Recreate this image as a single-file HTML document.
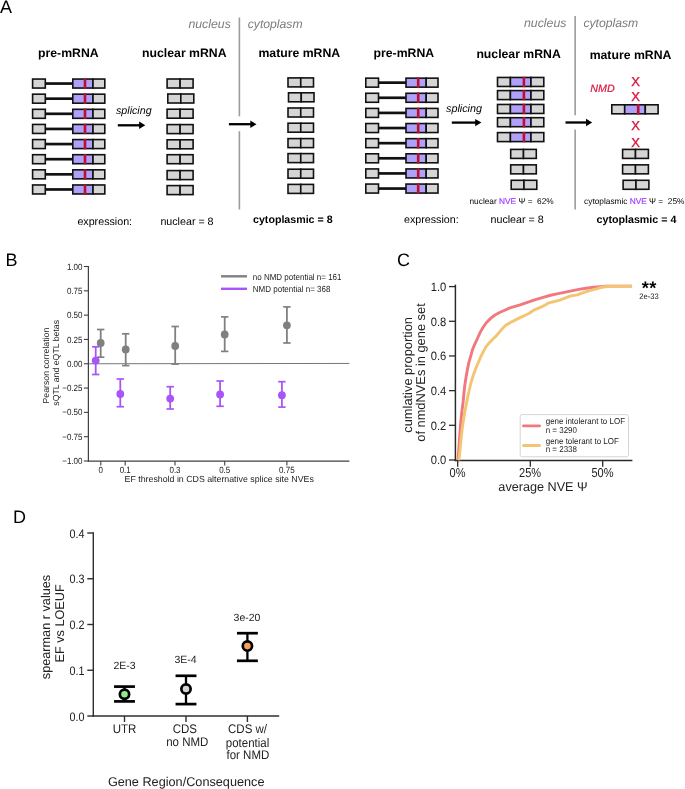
<!DOCTYPE html>
<html><head><meta charset="utf-8"><title>Figure</title>
<style>
html,body{margin:0;padding:0;background:#fff;}
body{width:685px;height:789px;overflow:hidden;font-family:"Liberation Sans", sans-serif;}
svg{display:block;font-family:"Liberation Sans", sans-serif;text-rendering:geometricPrecision;will-change:transform;}
</style></head><body>
<svg width="685" height="789" viewBox="0 0 685 789">
<rect width="685" height="789" fill="#fff"/>
<text x="-0.1" y="13.1" font-size="18" text-anchor="start" font-weight="normal" font-style="normal" fill="#000" >A</text>
<text x="68.3" y="57.3" font-size="12.25" text-anchor="middle" font-weight="bold" font-style="normal" fill="#000" >pre-mRNA</text>
<text x="184.3" y="57.3" font-size="12.25" text-anchor="middle" font-weight="bold" font-style="normal" fill="#000" >nuclear mRNA</text>
<text x="299.3" y="57.3" font-size="12.25" text-anchor="middle" font-weight="bold" font-style="normal" fill="#000" >mature mRNA</text>
<text x="230.8" y="27.5" font-size="12.3" text-anchor="end" font-weight="normal" font-style="italic" fill="#7c7c7c" >nucleus</text>
<text x="247.7" y="27.5" font-size="12.2" text-anchor="start" font-weight="normal" font-style="italic" fill="#7c7c7c" >cytoplasm</text>
<line x1="239.4" y1="17.5" x2="239.4" y2="116.3" stroke="#9c9c9c" stroke-width="1.6"/>
<line x1="239.4" y1="131.2" x2="239.4" y2="209.5" stroke="#9c9c9c" stroke-width="1.6"/>
<line x1="45.3" y1="83.55" x2="72.80000000000001" y2="83.55" stroke="#111" stroke-width="2.7"/>
<rect x="32.6" y="79.05" w="" width="12.7" height="9.0" fill="#d5d5d5" stroke="#111" stroke-width="1.6"/>
<rect x="72.80000000000001" y="79.05" w="" width="20.2" height="9.0" fill="#b0a0fa" stroke="#111" stroke-width="1.6"/>
<rect x="93.0" y="79.05" w="" width="11.8" height="9.0" fill="#d5d5d5" stroke="#111" stroke-width="1.6"/>
<line x1="85.0" y1="78.35" x2="85.0" y2="88.75" stroke="#ba0f2e" stroke-width="2.6"/>
<line x1="45.3" y1="98.67999999999999" x2="72.80000000000001" y2="98.67999999999999" stroke="#111" stroke-width="2.7"/>
<rect x="32.6" y="94.17999999999999" w="" width="12.7" height="9.0" fill="#d5d5d5" stroke="#111" stroke-width="1.6"/>
<rect x="72.80000000000001" y="94.17999999999999" w="" width="20.2" height="9.0" fill="#b0a0fa" stroke="#111" stroke-width="1.6"/>
<rect x="93.0" y="94.17999999999999" w="" width="11.8" height="9.0" fill="#d5d5d5" stroke="#111" stroke-width="1.6"/>
<line x1="85.0" y1="93.47999999999999" x2="85.0" y2="103.88" stroke="#ba0f2e" stroke-width="2.6"/>
<line x1="45.3" y1="113.81" x2="72.80000000000001" y2="113.81" stroke="#111" stroke-width="2.7"/>
<rect x="32.6" y="109.31" w="" width="12.7" height="9.0" fill="#d5d5d5" stroke="#111" stroke-width="1.6"/>
<rect x="72.80000000000001" y="109.31" w="" width="20.2" height="9.0" fill="#b0a0fa" stroke="#111" stroke-width="1.6"/>
<rect x="93.0" y="109.31" w="" width="11.8" height="9.0" fill="#d5d5d5" stroke="#111" stroke-width="1.6"/>
<line x1="85.0" y1="108.61" x2="85.0" y2="119.01" stroke="#ba0f2e" stroke-width="2.6"/>
<line x1="45.3" y1="128.94" x2="72.80000000000001" y2="128.94" stroke="#111" stroke-width="2.7"/>
<rect x="32.6" y="124.44" w="" width="12.7" height="9.0" fill="#d5d5d5" stroke="#111" stroke-width="1.6"/>
<rect x="72.80000000000001" y="124.44" w="" width="20.2" height="9.0" fill="#b0a0fa" stroke="#111" stroke-width="1.6"/>
<rect x="93.0" y="124.44" w="" width="11.8" height="9.0" fill="#d5d5d5" stroke="#111" stroke-width="1.6"/>
<line x1="85.0" y1="123.74" x2="85.0" y2="134.14" stroke="#ba0f2e" stroke-width="2.6"/>
<line x1="45.3" y1="144.07" x2="72.80000000000001" y2="144.07" stroke="#111" stroke-width="2.7"/>
<rect x="32.6" y="139.57" w="" width="12.7" height="9.0" fill="#d5d5d5" stroke="#111" stroke-width="1.6"/>
<rect x="72.80000000000001" y="139.57" w="" width="20.2" height="9.0" fill="#b0a0fa" stroke="#111" stroke-width="1.6"/>
<rect x="93.0" y="139.57" w="" width="11.8" height="9.0" fill="#d5d5d5" stroke="#111" stroke-width="1.6"/>
<line x1="85.0" y1="138.87" x2="85.0" y2="149.26999999999998" stroke="#ba0f2e" stroke-width="2.6"/>
<line x1="45.3" y1="159.2" x2="72.80000000000001" y2="159.2" stroke="#111" stroke-width="2.7"/>
<rect x="32.6" y="154.7" w="" width="12.7" height="9.0" fill="#d5d5d5" stroke="#111" stroke-width="1.6"/>
<rect x="72.80000000000001" y="154.7" w="" width="20.2" height="9.0" fill="#b0a0fa" stroke="#111" stroke-width="1.6"/>
<rect x="93.0" y="154.7" w="" width="11.8" height="9.0" fill="#d5d5d5" stroke="#111" stroke-width="1.6"/>
<line x1="85.0" y1="154.0" x2="85.0" y2="164.39999999999998" stroke="#ba0f2e" stroke-width="2.6"/>
<line x1="45.3" y1="174.32999999999998" x2="72.80000000000001" y2="174.32999999999998" stroke="#111" stroke-width="2.7"/>
<rect x="32.6" y="169.82999999999998" w="" width="12.7" height="9.0" fill="#d5d5d5" stroke="#111" stroke-width="1.6"/>
<rect x="72.80000000000001" y="169.82999999999998" w="" width="20.2" height="9.0" fill="#b0a0fa" stroke="#111" stroke-width="1.6"/>
<rect x="93.0" y="169.82999999999998" w="" width="11.8" height="9.0" fill="#d5d5d5" stroke="#111" stroke-width="1.6"/>
<line x1="85.0" y1="169.13" x2="85.0" y2="179.52999999999997" stroke="#ba0f2e" stroke-width="2.6"/>
<line x1="45.3" y1="189.46" x2="72.80000000000001" y2="189.46" stroke="#111" stroke-width="2.7"/>
<rect x="32.6" y="184.96" w="" width="12.7" height="9.0" fill="#d5d5d5" stroke="#111" stroke-width="1.6"/>
<rect x="72.80000000000001" y="184.96" w="" width="20.2" height="9.0" fill="#b0a0fa" stroke="#111" stroke-width="1.6"/>
<rect x="93.0" y="184.96" w="" width="11.8" height="9.0" fill="#d5d5d5" stroke="#111" stroke-width="1.6"/>
<line x1="85.0" y1="184.26000000000002" x2="85.0" y2="194.66" stroke="#ba0f2e" stroke-width="2.6"/>
<rect x="167.1" y="79.0" w="" width="13.0" height="9.0" fill="#d5d5d5" stroke="#111" stroke-width="1.6"/>
<rect x="180.1" y="79.0" w="" width="13.0" height="9.0" fill="#d5d5d5" stroke="#111" stroke-width="1.6"/>
<rect x="288.0" y="77.9" w="" width="12.75" height="9.0" fill="#d5d5d5" stroke="#111" stroke-width="1.6"/>
<rect x="300.75" y="77.9" w="" width="12.75" height="9.0" fill="#d5d5d5" stroke="#111" stroke-width="1.6"/>
<rect x="167.79999999999998" y="94.0" w="" width="13.0" height="9.0" fill="#d5d5d5" stroke="#111" stroke-width="1.6"/>
<rect x="180.79999999999998" y="94.0" w="" width="13.0" height="9.0" fill="#d5d5d5" stroke="#111" stroke-width="1.6"/>
<rect x="288.5" y="92.8" w="" width="12.75" height="9.0" fill="#d5d5d5" stroke="#111" stroke-width="1.6"/>
<rect x="301.25" y="92.8" w="" width="12.75" height="9.0" fill="#d5d5d5" stroke="#111" stroke-width="1.6"/>
<rect x="167.1" y="109.2" w="" width="13.0" height="9.0" fill="#d5d5d5" stroke="#111" stroke-width="1.6"/>
<rect x="180.1" y="109.2" w="" width="13.0" height="9.0" fill="#d5d5d5" stroke="#111" stroke-width="1.6"/>
<rect x="288.0" y="108.0" w="" width="12.75" height="9.0" fill="#d5d5d5" stroke="#111" stroke-width="1.6"/>
<rect x="300.75" y="108.0" w="" width="12.75" height="9.0" fill="#d5d5d5" stroke="#111" stroke-width="1.6"/>
<rect x="167.1" y="124.6" w="" width="13.0" height="9.0" fill="#d5d5d5" stroke="#111" stroke-width="1.6"/>
<rect x="180.1" y="124.6" w="" width="13.0" height="9.0" fill="#d5d5d5" stroke="#111" stroke-width="1.6"/>
<rect x="288.0" y="123.2" w="" width="12.75" height="9.0" fill="#d5d5d5" stroke="#111" stroke-width="1.6"/>
<rect x="300.75" y="123.2" w="" width="12.75" height="9.0" fill="#d5d5d5" stroke="#111" stroke-width="1.6"/>
<rect x="167.1" y="139.8" w="" width="13.0" height="9.0" fill="#d5d5d5" stroke="#111" stroke-width="1.6"/>
<rect x="180.1" y="139.8" w="" width="13.0" height="9.0" fill="#d5d5d5" stroke="#111" stroke-width="1.6"/>
<rect x="288.0" y="138.6" w="" width="12.75" height="9.0" fill="#d5d5d5" stroke="#111" stroke-width="1.6"/>
<rect x="300.75" y="138.6" w="" width="12.75" height="9.0" fill="#d5d5d5" stroke="#111" stroke-width="1.6"/>
<rect x="167.1" y="154.7" w="" width="13.0" height="9.0" fill="#d5d5d5" stroke="#111" stroke-width="1.6"/>
<rect x="180.1" y="154.7" w="" width="13.0" height="9.0" fill="#d5d5d5" stroke="#111" stroke-width="1.6"/>
<rect x="288.0" y="153.6" w="" width="12.75" height="9.0" fill="#d5d5d5" stroke="#111" stroke-width="1.6"/>
<rect x="300.75" y="153.6" w="" width="12.75" height="9.0" fill="#d5d5d5" stroke="#111" stroke-width="1.6"/>
<rect x="167.1" y="170.6" w="" width="13.0" height="9.0" fill="#d5d5d5" stroke="#111" stroke-width="1.6"/>
<rect x="180.1" y="170.6" w="" width="13.0" height="9.0" fill="#d5d5d5" stroke="#111" stroke-width="1.6"/>
<rect x="288.0" y="169.2" w="" width="12.75" height="9.0" fill="#d5d5d5" stroke="#111" stroke-width="1.6"/>
<rect x="300.75" y="169.2" w="" width="12.75" height="9.0" fill="#d5d5d5" stroke="#111" stroke-width="1.6"/>
<rect x="167.1" y="185.6" w="" width="13.0" height="9.0" fill="#d5d5d5" stroke="#111" stroke-width="1.6"/>
<rect x="180.1" y="185.6" w="" width="13.0" height="9.0" fill="#d5d5d5" stroke="#111" stroke-width="1.6"/>
<rect x="288.0" y="184.4" w="" width="12.75" height="9.0" fill="#d5d5d5" stroke="#111" stroke-width="1.6"/>
<rect x="300.75" y="184.4" w="" width="12.75" height="9.0" fill="#d5d5d5" stroke="#111" stroke-width="1.6"/>
<text x="133.8" y="114.0" font-size="10.7" text-anchor="middle" font-weight="normal" font-style="italic" fill="#000" >splicing</text>
<line x1="117.8" y1="125.3" x2="140.3" y2="125.3" stroke="#000" stroke-width="2.3"/>
<path d="M145.3,125.3 L139.10000000000002,121.6 L139.10000000000002,129.0 Z" fill="#000"/>
<line x1="228.9" y1="124.2" x2="251.5" y2="124.2" stroke="#000" stroke-width="2.3"/>
<path d="M256.5,124.2 L250.3,120.5 L250.3,127.9 Z" fill="#000"/>
<text x="77.4" y="224.9" font-size="10.7" text-anchor="start" font-weight="normal" font-style="normal" fill="#000" >expression:</text>
<text x="160.4" y="224.9" font-size="10.7" text-anchor="start" font-weight="normal" font-style="normal" fill="#000" >nuclear = 8</text>
<text x="253" y="222.9" font-size="10.65" text-anchor="start" font-weight="bold" font-style="normal" fill="#000" >cytoplasmic = 8</text>
<text x="403.8" y="57.3" font-size="12.25" text-anchor="middle" font-weight="bold" font-style="normal" fill="#000" >pre-mRNA</text>
<text x="518.6" y="57.8" font-size="12.25" text-anchor="middle" font-weight="bold" font-style="normal" fill="#000" >nuclear mRNA</text>
<text x="630.5" y="58.8" font-size="12.25" text-anchor="middle" font-weight="bold" font-style="normal" fill="#000" >mature mRNA</text>
<text x="566.4" y="26.5" font-size="12.3" text-anchor="end" font-weight="normal" font-style="italic" fill="#7c7c7c" >nucleus</text>
<text x="583.4" y="26.5" font-size="12.2" text-anchor="start" font-weight="normal" font-style="italic" fill="#7c7c7c" >cytoplasm</text>
<line x1="575.15" y1="16" x2="575.15" y2="115.3" stroke="#9c9c9c" stroke-width="1.6"/>
<line x1="575.15" y1="129.6" x2="575.15" y2="209.5" stroke="#9c9c9c" stroke-width="1.6"/>
<line x1="378.5" y1="82.64999999999999" x2="406.0" y2="82.64999999999999" stroke="#111" stroke-width="2.7"/>
<rect x="365.8" y="78.14999999999999" w="" width="12.7" height="9.0" fill="#d5d5d5" stroke="#111" stroke-width="1.6"/>
<rect x="406.0" y="78.14999999999999" w="" width="20.2" height="9.0" fill="#b0a0fa" stroke="#111" stroke-width="1.6"/>
<rect x="426.2" y="78.14999999999999" w="" width="11.8" height="9.0" fill="#d5d5d5" stroke="#111" stroke-width="1.6"/>
<line x1="418.2" y1="77.44999999999999" x2="418.2" y2="87.85" stroke="#ba0f2e" stroke-width="2.6"/>
<line x1="378.5" y1="97.77999999999999" x2="406.0" y2="97.77999999999999" stroke="#111" stroke-width="2.7"/>
<rect x="365.8" y="93.27999999999999" w="" width="12.7" height="9.0" fill="#d5d5d5" stroke="#111" stroke-width="1.6"/>
<rect x="406.0" y="93.27999999999999" w="" width="20.2" height="9.0" fill="#b0a0fa" stroke="#111" stroke-width="1.6"/>
<rect x="426.2" y="93.27999999999999" w="" width="11.8" height="9.0" fill="#d5d5d5" stroke="#111" stroke-width="1.6"/>
<line x1="418.2" y1="92.57999999999998" x2="418.2" y2="102.97999999999999" stroke="#ba0f2e" stroke-width="2.6"/>
<line x1="378.5" y1="112.91" x2="406.0" y2="112.91" stroke="#111" stroke-width="2.7"/>
<rect x="365.8" y="108.41" w="" width="12.7" height="9.0" fill="#d5d5d5" stroke="#111" stroke-width="1.6"/>
<rect x="406.0" y="108.41" w="" width="20.2" height="9.0" fill="#b0a0fa" stroke="#111" stroke-width="1.6"/>
<rect x="426.2" y="108.41" w="" width="11.8" height="9.0" fill="#d5d5d5" stroke="#111" stroke-width="1.6"/>
<line x1="418.2" y1="107.71" x2="418.2" y2="118.11" stroke="#ba0f2e" stroke-width="2.6"/>
<line x1="378.5" y1="128.04" x2="406.0" y2="128.04" stroke="#111" stroke-width="2.7"/>
<rect x="365.8" y="123.53999999999999" w="" width="12.7" height="9.0" fill="#d5d5d5" stroke="#111" stroke-width="1.6"/>
<rect x="406.0" y="123.53999999999999" w="" width="20.2" height="9.0" fill="#b0a0fa" stroke="#111" stroke-width="1.6"/>
<rect x="426.2" y="123.53999999999999" w="" width="11.8" height="9.0" fill="#d5d5d5" stroke="#111" stroke-width="1.6"/>
<line x1="418.2" y1="122.83999999999999" x2="418.2" y2="133.23999999999998" stroke="#ba0f2e" stroke-width="2.6"/>
<line x1="378.5" y1="143.17" x2="406.0" y2="143.17" stroke="#111" stroke-width="2.7"/>
<rect x="365.8" y="138.67" w="" width="12.7" height="9.0" fill="#d5d5d5" stroke="#111" stroke-width="1.6"/>
<rect x="406.0" y="138.67" w="" width="20.2" height="9.0" fill="#b0a0fa" stroke="#111" stroke-width="1.6"/>
<rect x="426.2" y="138.67" w="" width="11.8" height="9.0" fill="#d5d5d5" stroke="#111" stroke-width="1.6"/>
<line x1="418.2" y1="137.97" x2="418.2" y2="148.36999999999998" stroke="#ba0f2e" stroke-width="2.6"/>
<line x1="378.5" y1="158.29999999999998" x2="406.0" y2="158.29999999999998" stroke="#111" stroke-width="2.7"/>
<rect x="365.8" y="153.79999999999998" w="" width="12.7" height="9.0" fill="#d5d5d5" stroke="#111" stroke-width="1.6"/>
<rect x="406.0" y="153.79999999999998" w="" width="20.2" height="9.0" fill="#b0a0fa" stroke="#111" stroke-width="1.6"/>
<rect x="426.2" y="153.79999999999998" w="" width="11.8" height="9.0" fill="#d5d5d5" stroke="#111" stroke-width="1.6"/>
<line x1="418.2" y1="153.1" x2="418.2" y2="163.49999999999997" stroke="#ba0f2e" stroke-width="2.6"/>
<line x1="378.5" y1="173.42999999999998" x2="406.0" y2="173.42999999999998" stroke="#111" stroke-width="2.7"/>
<rect x="365.8" y="168.92999999999998" w="" width="12.7" height="9.0" fill="#d5d5d5" stroke="#111" stroke-width="1.6"/>
<rect x="406.0" y="168.92999999999998" w="" width="20.2" height="9.0" fill="#b0a0fa" stroke="#111" stroke-width="1.6"/>
<rect x="426.2" y="168.92999999999998" w="" width="11.8" height="9.0" fill="#d5d5d5" stroke="#111" stroke-width="1.6"/>
<line x1="418.2" y1="168.23" x2="418.2" y2="178.62999999999997" stroke="#ba0f2e" stroke-width="2.6"/>
<line x1="378.5" y1="188.56" x2="406.0" y2="188.56" stroke="#111" stroke-width="2.7"/>
<rect x="365.8" y="184.06" w="" width="12.7" height="9.0" fill="#d5d5d5" stroke="#111" stroke-width="1.6"/>
<rect x="406.0" y="184.06" w="" width="20.2" height="9.0" fill="#b0a0fa" stroke="#111" stroke-width="1.6"/>
<rect x="426.2" y="184.06" w="" width="11.8" height="9.0" fill="#d5d5d5" stroke="#111" stroke-width="1.6"/>
<line x1="418.2" y1="183.36" x2="418.2" y2="193.76" stroke="#ba0f2e" stroke-width="2.6"/>
<rect x="497.5" y="77.46" w="" width="12.9" height="9.0" fill="#d5d5d5" stroke="#111" stroke-width="1.6"/>
<rect x="510.4" y="77.46" w="" width="20.6" height="9.0" fill="#b0a0fa" stroke="#111" stroke-width="1.6"/>
<rect x="531.0" y="77.46" w="" width="12.8" height="9.0" fill="#d5d5d5" stroke="#111" stroke-width="1.6"/>
<line x1="523.9" y1="76.75999999999999" x2="523.9" y2="87.16" stroke="#ba0f2e" stroke-width="2.6"/>
<rect x="497.5" y="90.6" w="" width="12.9" height="9.0" fill="#d5d5d5" stroke="#111" stroke-width="1.6"/>
<rect x="510.4" y="90.6" w="" width="20.6" height="9.0" fill="#b0a0fa" stroke="#111" stroke-width="1.6"/>
<rect x="531.0" y="90.6" w="" width="12.8" height="9.0" fill="#d5d5d5" stroke="#111" stroke-width="1.6"/>
<line x1="523.9" y1="89.89999999999999" x2="523.9" y2="100.3" stroke="#ba0f2e" stroke-width="2.6"/>
<rect x="497.5" y="104.46" w="" width="12.9" height="9.0" fill="#d5d5d5" stroke="#111" stroke-width="1.6"/>
<rect x="510.4" y="104.46" w="" width="20.6" height="9.0" fill="#b0a0fa" stroke="#111" stroke-width="1.6"/>
<rect x="531.0" y="104.46" w="" width="12.8" height="9.0" fill="#d5d5d5" stroke="#111" stroke-width="1.6"/>
<line x1="523.9" y1="103.75999999999999" x2="523.9" y2="114.16" stroke="#ba0f2e" stroke-width="2.6"/>
<rect x="497.5" y="117.7" w="" width="12.9" height="9.0" fill="#d5d5d5" stroke="#111" stroke-width="1.6"/>
<rect x="510.4" y="117.7" w="" width="20.6" height="9.0" fill="#b0a0fa" stroke="#111" stroke-width="1.6"/>
<rect x="531.0" y="117.7" w="" width="12.8" height="9.0" fill="#d5d5d5" stroke="#111" stroke-width="1.6"/>
<line x1="523.9" y1="117.0" x2="523.9" y2="127.4" stroke="#ba0f2e" stroke-width="2.6"/>
<rect x="497.5" y="132.6" w="" width="12.9" height="9.0" fill="#d5d5d5" stroke="#111" stroke-width="1.6"/>
<rect x="510.4" y="132.6" w="" width="20.6" height="9.0" fill="#b0a0fa" stroke="#111" stroke-width="1.6"/>
<rect x="531.0" y="132.6" w="" width="12.8" height="9.0" fill="#d5d5d5" stroke="#111" stroke-width="1.6"/>
<line x1="523.9" y1="131.9" x2="523.9" y2="142.29999999999998" stroke="#ba0f2e" stroke-width="2.6"/>
<rect x="510.7" y="149.4" w="" width="12.8" height="9.0" fill="#d5d5d5" stroke="#111" stroke-width="1.6"/>
<rect x="523.5" y="149.4" w="" width="12.8" height="9.0" fill="#d5d5d5" stroke="#111" stroke-width="1.6"/>
<rect x="622.6" y="149.4" w="" width="12.9" height="9.0" fill="#d5d5d5" stroke="#111" stroke-width="1.6"/>
<rect x="635.5" y="149.4" w="" width="12.9" height="9.0" fill="#d5d5d5" stroke="#111" stroke-width="1.6"/>
<rect x="510.7" y="164.85" w="" width="12.8" height="9.0" fill="#d5d5d5" stroke="#111" stroke-width="1.6"/>
<rect x="523.5" y="164.85" w="" width="12.8" height="9.0" fill="#d5d5d5" stroke="#111" stroke-width="1.6"/>
<rect x="622.6" y="164.85" w="" width="12.9" height="9.0" fill="#d5d5d5" stroke="#111" stroke-width="1.6"/>
<rect x="635.5" y="164.85" w="" width="12.9" height="9.0" fill="#d5d5d5" stroke="#111" stroke-width="1.6"/>
<rect x="511.2" y="180.3" w="" width="12.8" height="9.0" fill="#d5d5d5" stroke="#111" stroke-width="1.6"/>
<rect x="524.0" y="180.3" w="" width="12.8" height="9.0" fill="#d5d5d5" stroke="#111" stroke-width="1.6"/>
<rect x="623.1" y="180.3" w="" width="12.9" height="9.0" fill="#d5d5d5" stroke="#111" stroke-width="1.6"/>
<rect x="636.0" y="180.3" w="" width="12.9" height="9.0" fill="#d5d5d5" stroke="#111" stroke-width="1.6"/>
<rect x="611.8" y="104.8" w="" width="12.9" height="9.0" fill="#d5d5d5" stroke="#111" stroke-width="1.6"/>
<rect x="624.6999999999999" y="104.8" w="" width="20.6" height="9.0" fill="#b0a0fa" stroke="#111" stroke-width="1.6"/>
<rect x="645.3" y="104.8" w="" width="12.8" height="9.0" fill="#d5d5d5" stroke="#111" stroke-width="1.6"/>
<line x1="638.1999999999999" y1="104.1" x2="638.1999999999999" y2="114.5" stroke="#ba0f2e" stroke-width="2.6"/>
<text x="464.0" y="111.7" font-size="10.8" text-anchor="middle" font-weight="normal" font-style="italic" fill="#000" >splicing</text>
<line x1="451.8" y1="122.6" x2="476.4" y2="122.6" stroke="#000" stroke-width="2.3"/>
<path d="M481.4,122.6 L475.2,118.89999999999999 L475.2,126.3 Z" fill="#000"/>
<line x1="565.5" y1="122.5" x2="587.2" y2="122.5" stroke="#000" stroke-width="2.3"/>
<path d="M592.2,122.5 L586.0,118.8 L586.0,126.2 Z" fill="#000"/>
<text x="602.5" y="92.4" font-size="10.7" text-anchor="middle" font-weight="normal" font-style="italic" fill="#dc143c" stroke="#dc143c" stroke-width="0.2">NMD</text>
<text x="635.6" y="85.65" font-size="13.0" text-anchor="middle" font-weight="normal" font-style="normal" fill="#dc143c" stroke="#dc143c" stroke-width="0.35">X</text>
<text x="635.6" y="100.95" font-size="13.0" text-anchor="middle" font-weight="normal" font-style="normal" fill="#dc143c" stroke="#dc143c" stroke-width="0.35">X</text>
<text x="635.6" y="129.65" font-size="13.0" text-anchor="middle" font-weight="normal" font-style="normal" fill="#dc143c" stroke="#dc143c" stroke-width="0.35">X</text>
<text x="635.6" y="146.95000000000002" font-size="13.0" text-anchor="middle" font-weight="normal" font-style="normal" fill="#dc143c" stroke="#dc143c" stroke-width="0.35">X</text>
<text x="469.5" y="203.7" font-size="8.3">nuclear <tspan fill="#a040ff" stroke="#a040ff" stroke-width="0.2">NVE</tspan> &#936; =&#160; 62%</text>
<text x="584.1" y="203.7" font-size="8.3">cytoplasmic <tspan fill="#a040ff" stroke="#a040ff" stroke-width="0.2">NVE</tspan> &#936; =&#160; 25%</text>
<text x="404" y="223" font-size="10.7" text-anchor="start" font-weight="normal" font-style="normal" fill="#000" >expression:</text>
<text x="490.5" y="223" font-size="10.7" text-anchor="start" font-weight="normal" font-style="normal" fill="#000" >nuclear = 8</text>
<text x="596.5" y="223" font-size="10.7" text-anchor="start" font-weight="bold" font-style="normal" fill="#000" >cytoplasmic = 4</text>
<text x="5.6" y="265.7" font-size="18" text-anchor="start" font-weight="normal" font-style="normal" fill="#000" >B</text>
<line x1="88.4" y1="266.0" x2="88.4" y2="461.6" stroke="#404040" stroke-width="1.25"/>
<line x1="87.9" y1="461.0" x2="349.4" y2="461.0" stroke="#404040" stroke-width="1.25"/>
<line x1="88.4" y1="363.75" x2="349.4" y2="363.45" stroke="#666" stroke-width="0.9"/>
<line x1="83.9" y1="266.5" x2="88.4" y2="266.5" stroke="#404040" stroke-width="1.1"/>
<text transform="translate(82.5,269.6) scale(1,1.12)" font-size="8" text-anchor="end" fill="#222">1.00</text>
<line x1="83.9" y1="290.8125" x2="88.4" y2="290.8125" stroke="#404040" stroke-width="1.1"/>
<text transform="translate(82.5,293.9125) scale(1,1.12)" font-size="8" text-anchor="end" fill="#222">0.75</text>
<line x1="83.9" y1="315.125" x2="88.4" y2="315.125" stroke="#404040" stroke-width="1.1"/>
<text transform="translate(82.5,318.225) scale(1,1.12)" font-size="8" text-anchor="end" fill="#222">0.50</text>
<line x1="83.9" y1="339.4375" x2="88.4" y2="339.4375" stroke="#404040" stroke-width="1.1"/>
<text transform="translate(82.5,342.5375) scale(1,1.12)" font-size="8" text-anchor="end" fill="#222">0.25</text>
<line x1="83.9" y1="363.75" x2="88.4" y2="363.75" stroke="#404040" stroke-width="1.1"/>
<text transform="translate(82.5,366.85) scale(1,1.12)" font-size="8" text-anchor="end" fill="#222">0.00</text>
<line x1="83.9" y1="388.0625" x2="88.4" y2="388.0625" stroke="#404040" stroke-width="1.1"/>
<text transform="translate(82.5,391.1625) scale(1,1.12)" font-size="8" text-anchor="end" fill="#222">&#8722;0.25</text>
<line x1="83.9" y1="412.375" x2="88.4" y2="412.375" stroke="#404040" stroke-width="1.1"/>
<text transform="translate(82.5,415.475) scale(1,1.12)" font-size="8" text-anchor="end" fill="#222">&#8722;0.50</text>
<line x1="83.9" y1="436.6875" x2="88.4" y2="436.6875" stroke="#404040" stroke-width="1.1"/>
<text transform="translate(82.5,439.7875) scale(1,1.12)" font-size="8" text-anchor="end" fill="#222">&#8722;0.75</text>
<line x1="83.9" y1="461.0" x2="88.4" y2="461.0" stroke="#404040" stroke-width="1.1"/>
<text transform="translate(82.5,464.1) scale(1,1.12)" font-size="8" text-anchor="end" fill="#222">&#8722;1.00</text>
<line x1="100.8" y1="461.0" x2="100.8" y2="465.6" stroke="#404040" stroke-width="1.1"/>
<text transform="translate(100.8,472.9) scale(1,1.12)" font-size="8" text-anchor="middle" fill="#222">0</text>
<line x1="125.2" y1="461.0" x2="125.2" y2="465.6" stroke="#404040" stroke-width="1.1"/>
<text transform="translate(125.2,472.9) scale(1,1.12)" font-size="8" text-anchor="middle" fill="#222">0.1</text>
<line x1="175" y1="461.0" x2="175" y2="465.6" stroke="#404040" stroke-width="1.1"/>
<text transform="translate(175,472.9) scale(1,1.12)" font-size="8" text-anchor="middle" fill="#222">0.3</text>
<line x1="224.7" y1="461.0" x2="224.7" y2="465.6" stroke="#404040" stroke-width="1.1"/>
<text transform="translate(224.7,472.9) scale(1,1.12)" font-size="8" text-anchor="middle" fill="#222">0.5</text>
<line x1="286.9" y1="461.0" x2="286.9" y2="465.6" stroke="#404040" stroke-width="1.1"/>
<text transform="translate(286.9,472.9) scale(1,1.12)" font-size="8" text-anchor="middle" fill="#222">0.75</text>
<text x="219.2" y="482" font-size="8.8" text-anchor="middle" font-weight="normal" font-style="normal" fill="#222" >EF threshold in CDS alternative splice site NVEs</text>
<text transform="translate(48.7,365.6) rotate(-90)" font-size="8.76" text-anchor="middle" fill="#222">Pearson correlation</text>
<text transform="translate(58.6,362.8) rotate(-90)" font-size="8.74" text-anchor="middle" fill="#222">sQTL and eQTL betas</text>
<line x1="221" y1="276.3" x2="247" y2="276.3" stroke="#808080" stroke-width="2.4"/>
<line x1="221" y1="288.8" x2="247" y2="288.8" stroke="#a855f7" stroke-width="2.4"/>
<text transform="translate(252.8,280.3) scale(1,1.1)" font-size="8" text-anchor="start" fill="#222">no NMD potential n= 161</text>
<text transform="translate(252.8,291.8) scale(1,1.1)" font-size="8" text-anchor="start" fill="#222">NMD potential n= 368</text>
<line x1="100.7" y1="329.5" x2="100.7" y2="357.2" stroke="#808080" stroke-width="1.8"/>
<line x1="97.0" y1="329.5" x2="104.4" y2="329.5" stroke="#808080" stroke-width="1.7"/>
<line x1="97.0" y1="357.2" x2="104.4" y2="357.2" stroke="#808080" stroke-width="1.7"/>
<circle cx="100.7" cy="343" r="3.9" fill="#808080"/>
<line x1="125.7" y1="333.8" x2="125.7" y2="365.6" stroke="#808080" stroke-width="1.8"/>
<line x1="122.0" y1="333.8" x2="129.4" y2="333.8" stroke="#808080" stroke-width="1.7"/>
<line x1="122.0" y1="365.6" x2="129.4" y2="365.6" stroke="#808080" stroke-width="1.7"/>
<circle cx="125.7" cy="349.5" r="3.9" fill="#808080"/>
<line x1="175.2" y1="326.5" x2="175.2" y2="364.1" stroke="#808080" stroke-width="1.8"/>
<line x1="171.5" y1="326.5" x2="178.89999999999998" y2="326.5" stroke="#808080" stroke-width="1.7"/>
<line x1="171.5" y1="364.1" x2="178.89999999999998" y2="364.1" stroke="#808080" stroke-width="1.7"/>
<circle cx="175.2" cy="346" r="3.9" fill="#808080"/>
<line x1="224.7" y1="316.9" x2="224.7" y2="351.4" stroke="#808080" stroke-width="1.8"/>
<line x1="221.0" y1="316.9" x2="228.39999999999998" y2="316.9" stroke="#808080" stroke-width="1.7"/>
<line x1="221.0" y1="351.4" x2="228.39999999999998" y2="351.4" stroke="#808080" stroke-width="1.7"/>
<circle cx="224.7" cy="334.5" r="3.9" fill="#808080"/>
<line x1="286.9" y1="306.9" x2="286.9" y2="343" stroke="#808080" stroke-width="1.8"/>
<line x1="283.2" y1="306.9" x2="290.59999999999997" y2="306.9" stroke="#808080" stroke-width="1.7"/>
<line x1="283.2" y1="343" x2="290.59999999999997" y2="343" stroke="#808080" stroke-width="1.7"/>
<circle cx="286.9" cy="325.3" r="3.9" fill="#808080"/>
<line x1="95.7" y1="346.8" x2="95.7" y2="374.5" stroke="#a855f7" stroke-width="1.8"/>
<line x1="92.0" y1="346.8" x2="99.4" y2="346.8" stroke="#a855f7" stroke-width="1.7"/>
<line x1="92.0" y1="374.5" x2="99.4" y2="374.5" stroke="#a855f7" stroke-width="1.7"/>
<circle cx="95.7" cy="360.6" r="3.9" fill="#a855f7"/>
<line x1="120.3" y1="379" x2="120.3" y2="406.7" stroke="#a855f7" stroke-width="1.8"/>
<line x1="116.6" y1="379" x2="124.0" y2="379" stroke="#a855f7" stroke-width="1.7"/>
<line x1="116.6" y1="406.7" x2="124.0" y2="406.7" stroke="#a855f7" stroke-width="1.7"/>
<circle cx="120.3" cy="394" r="3.9" fill="#a855f7"/>
<line x1="170.2" y1="386.7" x2="170.2" y2="409" stroke="#a855f7" stroke-width="1.8"/>
<line x1="166.5" y1="386.7" x2="173.89999999999998" y2="386.7" stroke="#a855f7" stroke-width="1.7"/>
<line x1="166.5" y1="409" x2="173.89999999999998" y2="409" stroke="#a855f7" stroke-width="1.7"/>
<circle cx="170.2" cy="398.6" r="3.9" fill="#a855f7"/>
<line x1="220.1" y1="381" x2="220.1" y2="406.3" stroke="#a855f7" stroke-width="1.8"/>
<line x1="216.4" y1="381" x2="223.79999999999998" y2="381" stroke="#a855f7" stroke-width="1.7"/>
<line x1="216.4" y1="406.3" x2="223.79999999999998" y2="406.3" stroke="#a855f7" stroke-width="1.7"/>
<circle cx="220.1" cy="394.4" r="3.9" fill="#a855f7"/>
<line x1="281.9" y1="381.7" x2="281.9" y2="407.1" stroke="#a855f7" stroke-width="1.8"/>
<line x1="278.2" y1="381.7" x2="285.59999999999997" y2="381.7" stroke="#a855f7" stroke-width="1.7"/>
<line x1="278.2" y1="407.1" x2="285.59999999999997" y2="407.1" stroke="#a855f7" stroke-width="1.7"/>
<circle cx="281.9" cy="395.2" r="3.9" fill="#a855f7"/>
<text x="396.9" y="266.3" font-size="18" text-anchor="start" font-weight="normal" font-style="normal" fill="#000" >C</text>
<line x1="455.4" y1="284.6" x2="455.4" y2="461.09999999999997" stroke="#2b2b2b" stroke-width="1.5"/>
<line x1="454.7" y1="460.4" x2="632.4" y2="460.4" stroke="#2b2b2b" stroke-width="1.5"/>
<line x1="449.0" y1="460.0" x2="455.4" y2="460.0" stroke="#2b2b2b" stroke-width="1.3"/>
<text transform="translate(446.3,464.4) scale(1,1.085)" font-size="11.2" text-anchor="end" fill="#222">0.0</text>
<line x1="449.0" y1="425.32" x2="455.4" y2="425.32" stroke="#2b2b2b" stroke-width="1.3"/>
<text transform="translate(446.3,429.71999999999997) scale(1,1.085)" font-size="11.2" text-anchor="end" fill="#222">0.2</text>
<line x1="449.0" y1="390.64" x2="455.4" y2="390.64" stroke="#2b2b2b" stroke-width="1.3"/>
<text transform="translate(446.3,395.03999999999996) scale(1,1.085)" font-size="11.2" text-anchor="end" fill="#222">0.4</text>
<line x1="449.0" y1="355.96000000000004" x2="455.4" y2="355.96000000000004" stroke="#2b2b2b" stroke-width="1.3"/>
<text transform="translate(446.3,360.36) scale(1,1.085)" font-size="11.2" text-anchor="end" fill="#222">0.6</text>
<line x1="449.0" y1="321.28000000000003" x2="455.4" y2="321.28000000000003" stroke="#2b2b2b" stroke-width="1.3"/>
<text transform="translate(446.3,325.68) scale(1,1.085)" font-size="11.2" text-anchor="end" fill="#222">0.8</text>
<line x1="449.0" y1="286.6" x2="455.4" y2="286.6" stroke="#2b2b2b" stroke-width="1.3"/>
<text transform="translate(446.3,291.0) scale(1,1.085)" font-size="11.2" text-anchor="end" fill="#222">1.0</text>
<line x1="457.7" y1="460.4" x2="457.7" y2="466.7" stroke="#2b2b2b" stroke-width="1.3"/>
<text transform="translate(457.5,477.3) scale(1,1.17)" font-size="11.05" text-anchor="middle" fill="#222">0%</text>
<line x1="530.3" y1="460.4" x2="530.3" y2="466.7" stroke="#2b2b2b" stroke-width="1.3"/>
<text transform="translate(530.0999999999999,477.3) scale(1,1.17)" font-size="11.05" text-anchor="middle" fill="#222">25%</text>
<line x1="602.7" y1="460.4" x2="602.7" y2="466.7" stroke="#2b2b2b" stroke-width="1.3"/>
<text transform="translate(602.5,477.3) scale(1,1.17)" font-size="11.05" text-anchor="middle" fill="#222">50%</text>
<text x="543" y="490.9" font-size="12.65" text-anchor="middle" font-weight="normal" font-style="normal" fill="#222" >average NVE &#936;</text>
<text transform="translate(411.5,374.9) rotate(-90)" font-size="12.85" text-anchor="middle" fill="#222">cumlative proportion</text>
<text transform="translate(425.2,372.5) rotate(-90)" font-size="12.85" text-anchor="middle" fill="#222">of nmdNVEs in gene set</text>
<polyline points="457.9,460.2 458.6,452 459.5,439.4 460.4,426.3 461.7,413 463.1,402 463.8,394.3 464.8,385.5 466.1,376.8 467.5,368.9 469,361.9 470.8,355.8 472.5,349.6 474.7,344.4 477.2,339 479.7,333.4 482.8,327.8 486.3,322.7 490.4,318.6 495,315 499.6,312.5 504.7,310.2 509.9,307.9 515,306.3 520.1,304.8 525.2,303.1 530.3,301.4 535.4,299.7 542.3,297.7 549.6,295.5 556.9,293.8 564.2,292.3 571.5,290.8 578.8,289.4 586.1,288.2 593.4,287.3 600.7,286.6 606,286.15 632,286.15" fill="none" stroke="#f1787f" stroke-width="2.9" stroke-linejoin="round"/>
<polyline points="458.8,460.2 459.8,452.6 461,439.4 462.5,426.3 464.6,413.1 466.6,402.5 467.7,396.9 469.5,389 471.2,382 473.4,375 475.6,368.9 478.2,362.8 480.8,356.6 483.5,351.4 486.1,346.6 488.6,343.6 492,340.1 496.1,336 499.6,331.9 502.7,328.3 505.8,325.3 510.9,322.2 516,319.6 521.1,317.1 525.7,315 529.3,313.3 533.4,310.4 537.4,308.7 540.8,307.2 545.2,305 548.9,302.8 554,301.6 559.8,300.2 564.2,298.4 570,296.2 577.3,294.8 583.2,292.6 590.5,290.4 596.3,288.9 600.7,287.5 605.1,286.7 610.9,286.2 632.1,286.15" fill="none" stroke="#f3c472" stroke-width="2.9" stroke-linejoin="round"/>
<rect x="520.2" y="414.6" width="108.3" height="42.2" rx="2" fill="#fff" fill-opacity="0.85" stroke="#d0d0d0" stroke-width="0.9"/>
<line x1="523.5" y1="425.9" x2="539.5" y2="425.9" stroke="#f1787f" stroke-width="2.9" stroke-linecap="round"/>
<line x1="523.5" y1="445.5" x2="539.5" y2="445.5" stroke="#f3c472" stroke-width="2.9" stroke-linecap="round"/>
<text transform="translate(545.7,424.3) scale(1,1.08)" font-size="7.97" text-anchor="start" fill="#222">gene intolerant to LOF</text>
<text transform="translate(545.7,432.6) scale(1,1.08)" font-size="7.97" text-anchor="start" fill="#222">n = 3290</text>
<text transform="translate(545.7,443.8) scale(1,1.08)" font-size="7.97" text-anchor="start" fill="#222">gene tolerant to LOF</text>
<text transform="translate(545.7,451.8) scale(1,1.08)" font-size="7.97" text-anchor="start" fill="#222">n = 2338</text>
<text x="649.3" y="294.4" font-size="18.3" text-anchor="middle" font-weight="bold" font-style="normal" fill="#000" letter-spacing="0.4">**</text>
<text transform="translate(649.0,298.9) scale(1,1.05)" font-size="7.6" text-anchor="middle" fill="#222">2e-33</text>
<text x="13" y="522.8" font-size="18" text-anchor="start" font-weight="normal" font-style="normal" fill="#000" >D</text>
<line x1="93.3" y1="532.3" x2="93.3" y2="716.7" stroke="#2e2e2e" stroke-width="1.4"/>
<line x1="92.6" y1="716" x2="279.2" y2="716" stroke="#2e2e2e" stroke-width="1.4"/>
<line x1="87.3" y1="716.0" x2="93.3" y2="716.0" stroke="#2e2e2e" stroke-width="1.4"/>
<text transform="translate(84.4,720.7) scale(1,1.14)" font-size="10.8" text-anchor="end" fill="#222">0.0</text>
<line x1="87.3" y1="670.25" x2="93.3" y2="670.25" stroke="#2e2e2e" stroke-width="1.4"/>
<text transform="translate(84.4,674.95) scale(1,1.14)" font-size="10.8" text-anchor="end" fill="#222">0.1</text>
<line x1="87.3" y1="624.5" x2="93.3" y2="624.5" stroke="#2e2e2e" stroke-width="1.4"/>
<text transform="translate(84.4,629.2) scale(1,1.14)" font-size="10.8" text-anchor="end" fill="#222">0.2</text>
<line x1="87.3" y1="578.75" x2="93.3" y2="578.75" stroke="#2e2e2e" stroke-width="1.4"/>
<text transform="translate(84.4,583.45) scale(1,1.14)" font-size="10.8" text-anchor="end" fill="#222">0.3</text>
<line x1="87.3" y1="533.0" x2="93.3" y2="533.0" stroke="#2e2e2e" stroke-width="1.4"/>
<text transform="translate(84.4,537.7) scale(1,1.14)" font-size="10.8" text-anchor="end" fill="#222">0.4</text>
<text transform="translate(50.3,627) rotate(-90)" font-size="12.7" text-anchor="middle" fill="#222">spearman r values</text>
<text transform="translate(64.3,623.4) rotate(-90)" font-size="12.7" text-anchor="middle" fill="#222">EF vs LOEUF</text>
<line x1="124.5" y1="716" x2="124.5" y2="722" stroke="#2e2e2e" stroke-width="1.4"/>
<line x1="124.5" y1="686.4" x2="124.5" y2="701.3" stroke="#000" stroke-width="2.3"/>
<line x1="114.05" y1="686.6" x2="134.95" y2="686.6" stroke="#000" stroke-width="2.7"/>
<line x1="114.05" y1="701.4" x2="134.95" y2="701.4" stroke="#000" stroke-width="2.7"/>
<circle cx="124.5" cy="694.3" r="4.65" fill="#91ea8d" stroke="#000" stroke-width="2.7"/>
<line x1="186" y1="716" x2="186" y2="722" stroke="#2e2e2e" stroke-width="1.4"/>
<line x1="186" y1="675.6" x2="186" y2="704" stroke="#000" stroke-width="2.3"/>
<line x1="175.55" y1="675.8000000000001" x2="196.45" y2="675.8000000000001" stroke="#000" stroke-width="2.7"/>
<line x1="175.55" y1="704.1" x2="196.45" y2="704.1" stroke="#000" stroke-width="2.7"/>
<circle cx="186" cy="689" r="4.65" fill="#d3d3d3" stroke="#000" stroke-width="2.7"/>
<line x1="247.4" y1="716" x2="247.4" y2="722" stroke="#2e2e2e" stroke-width="1.4"/>
<line x1="247.4" y1="633" x2="247.4" y2="660.7" stroke="#000" stroke-width="2.3"/>
<line x1="236.95000000000002" y1="633.2" x2="257.85" y2="633.2" stroke="#000" stroke-width="2.7"/>
<line x1="236.95000000000002" y1="660.8000000000001" x2="257.85" y2="660.8000000000001" stroke="#000" stroke-width="2.7"/>
<circle cx="247.4" cy="646.1" r="4.65" fill="#f5a05a" stroke="#000" stroke-width="2.7"/>
<text x="124.5" y="669.1" font-size="10.5" text-anchor="middle" font-weight="normal" font-style="normal" fill="#222" >2E-3</text>
<text x="185.5" y="663.4" font-size="10.5" text-anchor="middle" font-weight="normal" font-style="normal" fill="#222" >3E-4</text>
<text x="247" y="620.5" font-size="10.5" text-anchor="middle" font-weight="normal" font-style="normal" fill="#222" >3e-20</text>
<text transform="translate(124.5,733.1) scale(1,1.09)" font-size="11.5" text-anchor="middle" fill="#222">UTR</text>
<text transform="translate(184.9,733.1) scale(1,1.09)" font-size="11.5" text-anchor="middle" fill="#222">CDS</text>
<text transform="translate(187.3,746.3) scale(1,1.09)" font-size="11.5" text-anchor="middle" fill="#222">no NMD</text>
<text transform="translate(247.5,733.1) scale(1,1.09)" font-size="11.5" text-anchor="middle" fill="#222">CDS w/</text>
<text transform="translate(247.5,746.6) scale(1,1.09)" font-size="11.5" text-anchor="middle" fill="#222">potential</text>
<text transform="translate(247.9,758.6) scale(1,1.09)" font-size="11.5" text-anchor="middle" fill="#222">for NMD</text>
<text x="186.2" y="785.9" font-size="12.7" text-anchor="middle" font-weight="normal" font-style="normal" fill="#222" >Gene Region/Consequence</text>
</svg>
</body></html>
